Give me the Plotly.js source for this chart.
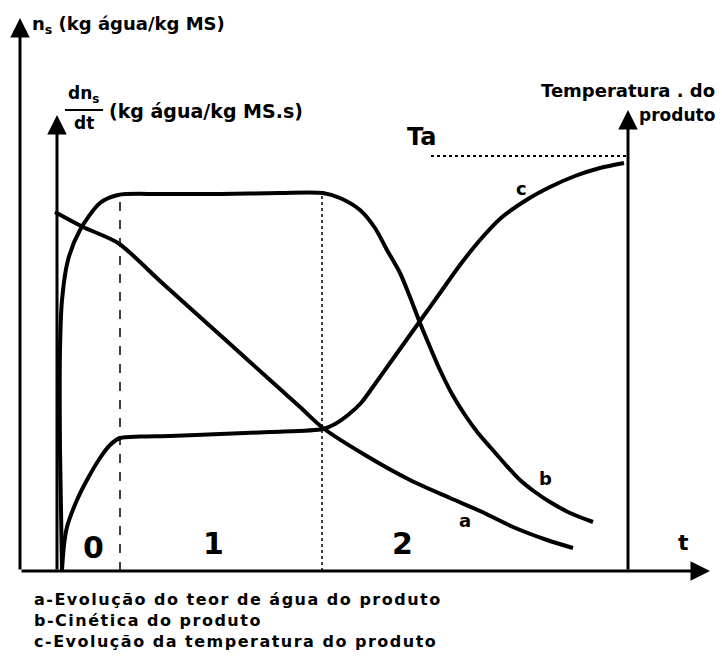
<!DOCTYPE html>
<html><head><meta charset="utf-8">
<script src="https://cdn.plot.ly/plotly-3.0.1.min.js"></script>
<style>html,body{margin:0;padding:0;background:#fff}</style>
</head><body><div id="chart" style="width:722px;height:660px"></div>
<script>
// curve a: water content of the product n_s
const tA = [3.5, 6.3, 9.8, 14, 18, 23, 28, 30.3, 34.5, 39, 43, 46, 49.3, 52.7, 55.3];
const nA = [35.9, 34.4, 32.8, 29.0, 25.4, 20.9, 16.4, 14.3, 11.6, 9.1, 7.3, 6.0, 4.4, 3.1, 2.3];
// curve b: drying rate dn_s/dt
const tB = [4.2, 4.0, 4.0, 4.2, 4.8, 6.0, 8.0, 9.8, 14, 20, 26, 30.3, 32, 34, 35.5, 36.7, 38, 39, 40, 41, 42, 43.2, 44.5, 45.8, 47.1, 48.5, 50, 51.5, 53, 55, 57.3];
const rB = [0.1, 12.1, 22.1, 27.1, 31.1, 34.1, 36.8, 37.6, 37.7, 37.7, 37.8, 37.8, 37.3, 36.1, 34.3, 32.1, 29.8, 27.4, 24.8, 22.4, 20.1, 17.7, 15.6, 13.8, 12.3, 10.7, 9.1, 7.9, 6.9, 5.8, 4.9];
// curve c: product temperature
const tC = [4.2, 4.4, 4.7, 5.7, 6.7, 8.0, 9.0, 10.0, 12, 15, 20, 25, 30.3, 31.5, 32.8, 34.1, 35.5, 37, 38.5, 40, 42, 44, 46, 48.1, 50.8, 53, 55.5, 58, 60.4];
const TC = [0.1, 2.6, 4.4, 7.1, 9.1, 11.3, 12.6, 13.3, 13.45, 13.5, 13.7, 13.9, 14.2, 14.7, 15.6, 16.8, 18.7, 20.8, 22.9, 25.0, 27.8, 30.6, 33.1, 35.3, 37.2, 38.4, 39.5, 40.3, 40.8];
// phase boundaries (time) and air temperature Ta
const phaseT = [3.7, 10.0, 30.2];
const phaseLabels = ["0", "1", "2"];
const phaseLabelT = [7.3, 19.3, 38.2];
const plateauRate = 37.7;
const Ta = 41.5;
const TaStart = 41.1;
const tEnd = 60.8;
const captions = ["a-Evolução do teor de água do produto", "b-Cinética do produto", "c-Evolução da temperatura do produto"];

const F = "DejaVu Sans, Liberation Sans, sans-serif";
const lineSty = {color: "#000", width: 4, shape: "spline", smoothing: 0.8};

const traces = [
  {x: tA, y: nA, mode: "lines", line: lineSty, hoverinfo: "skip"},
  {x: tB, y: rB, mode: "lines", line: lineSty, hoverinfo: "skip"},
  {x: tC, y: TC, mode: "lines", line: lineSty, hoverinfo: "skip"}
];

function arrow(x0, y0, x1, y1) {
  return {x: x1, y: y1, ax: x0, ay: y0, xref: "x", yref: "y", axref: "x", ayref: "y",
    showarrow: true, text: "", arrowhead: 2, arrowsize: 1.3, arrowwidth: 3, arrowcolor: "#000", standoff: 0};
}
function txt(x, y, s, size, opts) {
  return Object.assign({x: x, y: y, xref: "x", yref: "y", text: s, showarrow: false,
    xanchor: "center", yanchor: "middle",
    font: {family: F, size: size, color: "#000", weight: "bold"}}, opts || {});
}
function ptxt(x, y, s, size, opts) {
  return Object.assign({x: x, y: y, xref: "paper", yref: "paper", text: s, showarrow: false,
    xanchor: "left", yanchor: "middle",
    font: {family: F, size: size, color: "#000", weight: "bold"}}, opts || {});
}

const annotations = [
  arrow(0, 0, 0, 55.3),
  arrow(phaseT[0], 0, phaseT[0], 45.6),
  arrow(tEnd, 0, tEnd, 46.1),
  arrow(0, 0, 69.0, 0),
  txt(phaseLabelT[0], 2.4, phaseLabels[0], 30),
  txt(phaseLabelT[1], 2.8, phaseLabels[1], 30),
  txt(phaseLabelT[2], 2.8, phaseLabels[2], 30),
  txt(66.3, 2.9, "t", 22),
  txt(44.5, 5.1, "a", 18),
  txt(52.5, 9.3, "b", 18),
  txt(50.1, 38.3, "c", 18),
  txt(40.1, 43.4, "Ta", 24),
  ptxt(0.0145, 0.982, "n<sub>s</sub> (kg água/kg MS)", 18),
  ptxt(0.092, 0.857, "dn<sub>s</sub>", 17, {xanchor: "center"}),
  ptxt(0.092, 0.805, "dt", 17, {xanchor: "center"}),
  ptxt(0.126, 0.828, "(kg água/kg MS.s)", 19),
  ptxt(1.007, 0.865, "Temperatura . do", 18, {xanchor: "right"}),
  ptxt(1.007, 0.820, "produto", 17, {xanchor: "right"}),
  ptxt(0.0173, -0.0899, captions.join("<br>"), 16, {align: "left"})
];

const shapes = [
  {type: "line", xref: "x", yref: "y", x0: phaseT[1], x1: phaseT[1], y0: 0, y1: plateauRate, line: {color: "#000", width: 1.5, dash: "dash"}},
  {type: "line", xref: "x", yref: "y", x0: phaseT[2], x1: phaseT[2], y0: 0, y1: plateauRate, line: {color: "#000", width: 1.5, dash: "dot"}},
  {type: "line", xref: "x", yref: "y", x0: TaStart, x1: tEnd, y0: Ta, y1: Ta, line: {color: "#000", width: 2, dash: "dot"}},
  {type: "line", xref: "paper", yref: "paper", x0: 0.065, x1: 0.120, y0: 0.829, y1: 0.829, line: {color: "#000", width: 2}}
];

const layout = {
  width: 722, height: 660,
  margin: {l: 20, r: 10, t: 15, b: 89},
  paper_bgcolor: "#fff", plot_bgcolor: "#fff",
  showlegend: false,
  xaxis: {range: [0, 69.2], visible: false, fixedrange: true},
  yaxis: {range: [0, 55.6], visible: false, fixedrange: true},
  shapes: shapes,
  annotations: annotations
};
Plotly.newPlot("chart", traces, layout, {staticPlot: true, displayModeBar: false}).then(function (gd) {
  gd.querySelectorAll(".annotation-text").forEach(function (el) {
    if (el.textContent.indexOf("Evolução do teor") >= 0) el.style.letterSpacing = "1.5px";
  });
});
</script></body></html>
